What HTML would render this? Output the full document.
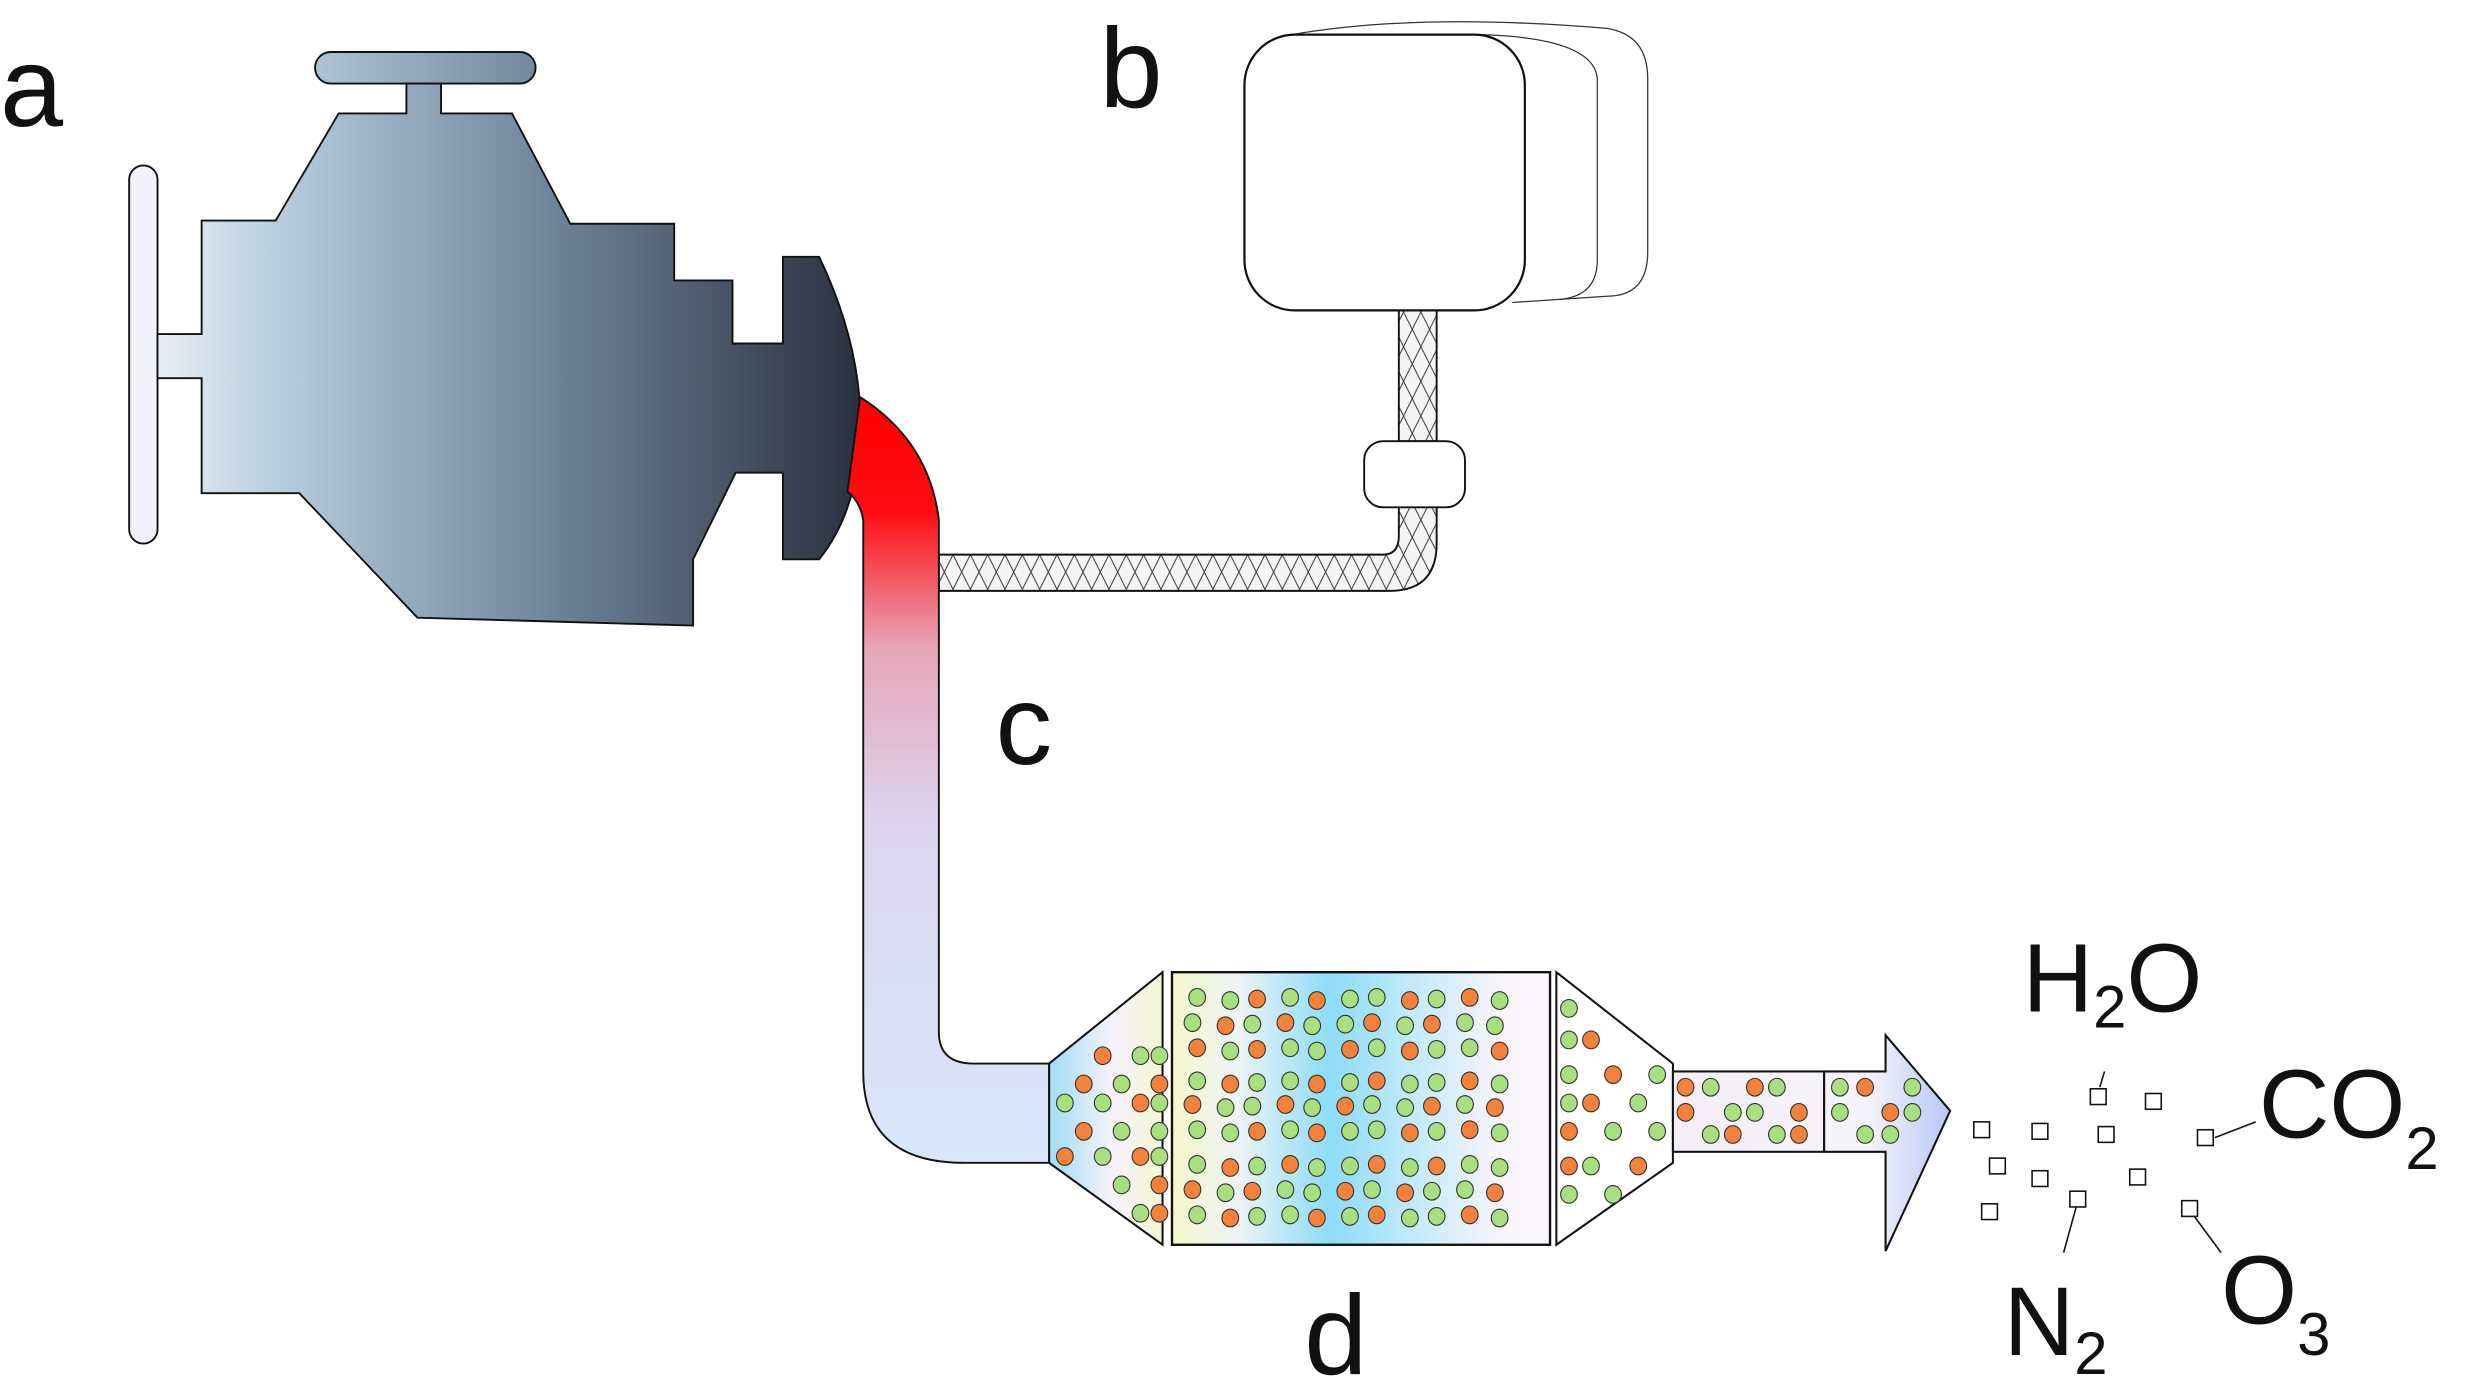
<!DOCTYPE html>
<html><head><meta charset="utf-8"><style>
html,body{margin:0;padding:0;background:#fff;}
svg{display:block;}
text{font-family:"Liberation Sans",Arial,sans-serif;fill:#111;}
</style></head><body>
<svg id="fig" width="2470" height="1385" viewBox="0 0 1568 879" preserveAspectRatio="none" xmlns="http://www.w3.org/2000/svg">
<defs>
<linearGradient id="eng" gradientUnits="userSpaceOnUse" x1="82" y1="0" x2="548" y2="0">
<stop offset="0" stop-color="#f4f5fb"/><stop offset="0.2" stop-color="#b8cedd"/><stop offset="0.5" stop-color="#7d93a8"/><stop offset="1" stop-color="#28303e"/>
</linearGradient>
<linearGradient id="pipe" x1="0" y1="250" x2="0" y2="740" gradientUnits="userSpaceOnUse">
<stop offset="0" stop-color="#ff0000"/><stop offset="0.15" stop-color="#ff0b10"/><stop offset="0.33" stop-color="#e8a6b8"/><stop offset="0.55" stop-color="#dcd4ee"/><stop offset="1" stop-color="#d8e8f8"/>
</linearGradient>
<linearGradient id="cat" x1="666" x2="1062" y1="0" y2="0" gradientUnits="userSpaceOnUse">
<stop offset="0" stop-color="#9fdcf5"/><stop offset="0.1" stop-color="#f6f2fb"/><stop offset="0.2" stop-color="#f4f7cc"/><stop offset="0.3" stop-color="#eef4f4"/><stop offset="0.45" stop-color="#8ddcf8"/><stop offset="0.6" stop-color="#c8ecfa"/><stop offset="0.72" stop-color="#f8f4fb"/><stop offset="1" stop-color="#ffffff"/>
</linearGradient>
<linearGradient id="arr" x1="1062" x2="1238" y1="0" y2="0" gradientUnits="userSpaceOnUse">
<stop offset="0" stop-color="#f4eef6"/><stop offset="0.7" stop-color="#f6f4fb"/><stop offset="1" stop-color="#b8c8f6"/>
</linearGradient>
<pattern id="mesh" width="22" height="22" patternUnits="userSpaceOnUse">
<rect width="22" height="22" fill="#f6f4f4"/><path d="M0 0 L11 22 L22 0 M0 22 L11 0 L22 22" stroke="#333" stroke-width="0.6" fill="none"/>
</pattern>
</defs>

<g>
<rect x="82" y="105" width="18" height="240" rx="9" fill="#f2f3fa" stroke="#111" stroke-width="1.2"/>
<rect x="200" y="33" width="140" height="20" rx="10" fill="url(#eng)" stroke="#111" stroke-width="1.2"/>
<path d="M100 212 L128 212 L128 140 L175 140 L215 72 L258 72 L258 53 L280 53 L280 72 L325 72 L362 142 L428 142 L428 178 L465 178 L465 218 L497 218 L497 163 L520 163 Q552 230 545 292 Q540 330 520 355 L497 355 L497 300 L467 300 L440 355 L440 397 L265 392 L190 313 L128 313 L128 240 L100 240 Z" fill="url(#eng)" stroke="#111" stroke-width="1.2"/>
</g>

<g>
<path d="M596 352 L878 352 Q888 352 888 340 L888 320 L912 320 L912 345 Q912 375 882 375 L596 375 Z" fill="url(#mesh)" stroke="#111" stroke-width="1.2"/>
<rect x="888" y="195" width="24" height="85" fill="url(#mesh)" stroke="#111" stroke-width="1.2"/>
<rect x="866" y="280" width="64" height="42" rx="12" fill="#fff" stroke="#111" stroke-width="1.2"/>
</g>
<g>
<path d="M820 22 Q900 8 1020 18 Q1046 22 1046 50 L1046 160 Q1046 188 1020 188 L960 192" fill="none" stroke="#333" stroke-width="0.8"/>
<path d="M940 22 Q1012 24 1014 50 L1014 165 Q1014 188 990 190" fill="none" stroke="#333" stroke-width="0.8"/>
<rect x="790" y="22" width="178" height="175" rx="32" fill="#fff" stroke="#111" stroke-width="1.4"/>
</g>

<path d="M546 252 Q590 280 596 330 L596 655 Q596 675 618 675 L666 675 L666 738 L612 738 Q548 738 548 680 L548 330 Q546 318 538 312 Z" fill="url(#pipe)" stroke="#111" stroke-width="1.2"/>

<g>
<path d="M666 675 L738 617 L738 790 L666 738 Z" fill="url(#cat)" stroke="#111" stroke-width="1.3"/>
<rect x="744" y="617" width="240" height="173" fill="url(#cat)" stroke="#111" stroke-width="1.5"/>
<path d="M988 617 L1062 675 L1062 738 L988 790 Z" fill="#fff" stroke="#111" stroke-width="1.3"/>
<rect x="1062" y="680" width="96" height="51" fill="url(#arr)" stroke="#111" stroke-width="1.3"/>
<path d="M1158 680 L1197 680 L1197 657 L1238 705 L1197 794 L1197 731 L1158 731 Z" fill="url(#arr)" stroke="#111" stroke-width="1.3"/>
<g id="dots"></g>
</g>

<g fill="#fff" stroke="#111" stroke-width="1">
<rect x="1253" y="712" width="10" height="10"/><rect x="1290" y="713" width="10" height="10"/><rect x="1327" y="691" width="10" height="10"/><rect x="1362" y="694" width="10" height="10"/>
<rect x="1332" y="715" width="10" height="10"/><rect x="1395" y="717" width="10" height="10"/><rect x="1263" y="735" width="10" height="10"/><rect x="1290" y="743" width="10" height="10"/>
<rect x="1352" y="742" width="10" height="10"/><rect x="1314" y="756" width="10" height="10"/><rect x="1385" y="762" width="10" height="10"/><rect x="1258" y="764" width="10" height="10"/>
<path d="M1336 680 L1333 690 M1406 722 L1432 712 M1318 766 L1310 795 M1393 772 L1410 795" fill="none"/>
</g>

<text x="0" y="80" font-size="72">a</text>
<text x="698" y="68" font-size="72">b</text>
<text x="632" y="485" font-size="72">c</text>
<text x="828" y="872" font-size="72">d</text>
<text x="1284" y="642" font-size="62">H<tspan font-size="38" dy="10">2</tspan><tspan dy="-10">O</tspan></text>
<text x="1434" y="722" font-size="62">CO<tspan font-size="38" dy="20">2</tspan></text>
<text x="1272" y="860" font-size="62">N<tspan font-size="38" dy="12">2</tspan></text>
<text x="1410" y="840" font-size="62">O<tspan font-size="38" dy="20">3</tspan></text>
</svg>
<script>
const mainXs=[760,779,798,817,836,855,874,893,912,931,952];
const mainYs=[634,650,666,687,702,718,740,756,772];
const inX=[676,688,700,712,724,736];
const inY=[670,688,700,718,734,752,770];
const outX=[996,1010,1024,1040,1052];
const outY=[640,660,682,700,718,740,758];
const tubeX=[1070,1086,1100,1114,1128,1142,1168,1184,1200,1214];
const tubeY=[690,706,720];
const g=document.getElementById('dots');
const NS='http://www.w3.org/2000/svg';
let k=0;
function dot(x,y){
  k++;
  const c=document.createElementNS(NS,'ellipse');
  
  
  c.setAttribute('cx',x);c.setAttribute('cy',y);c.setAttribute('rx',5.3);c.setAttribute('ry',5.6);
  const o=((k*7)%5)<2;
  c.setAttribute('fill',o?'#f5823a':'#a8e080');
  c.setAttribute('stroke','#333');c.setAttribute('stroke-width','0.7');
  g.appendChild(c);
}
mainYs.forEach((y,i)=>mainXs.forEach((x,j)=>{ dot(x+((i%3)===1?-3:0)+((j%2)?2:0),y+((j*5)%3)-1);}));
inY.forEach((y,i)=>inX.forEach((x,j)=>{ const half=Math.abs(y-706); const left=666+(half>32?(half-32)*1.2:0); if(x>left+6 && (i+j)%2===0 || x===736) dot(x,y);}));
outY.forEach((y,i)=>outX.forEach((x,j)=>{ const half=Math.abs(y-706); const right=1062-(half>32?(half-32)*1.2:0); if(x<right-6 && ((i+j)%2===0 || j===0)) dot(x,y);}));
tubeY.forEach((y,i)=>tubeX.forEach((x,j)=>{ if((i+j)%3!==2) dot(x,y);}));
</script>
</body></html>
